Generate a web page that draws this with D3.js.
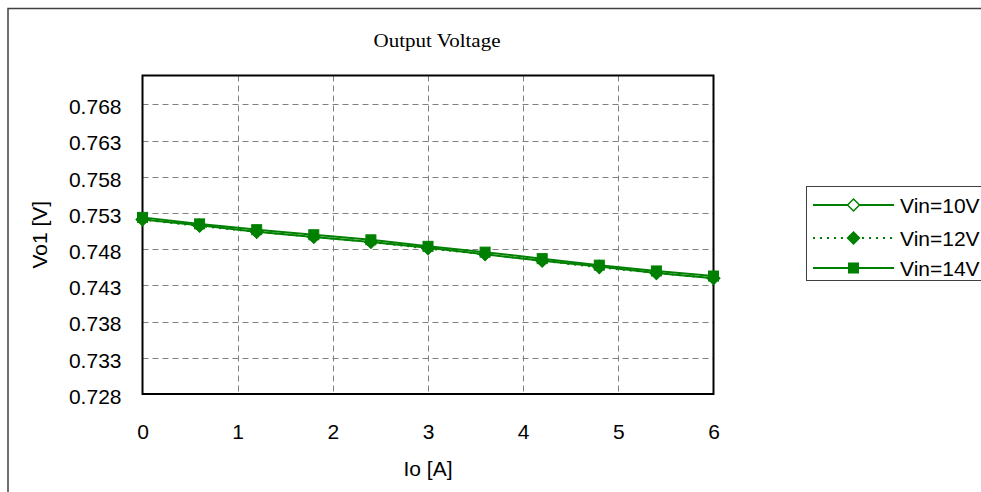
<!DOCTYPE html>
<html>
<head>
<meta charset="utf-8">
<script src="https://cdn.jsdelivr.net/npm/d3@7"></script>
<style>
  html, body { margin: 0; padding: 0; background: #fff; }
  svg { display: block; }
</style>
</head>
<body>
<svg id="chart" width="981" height="492"></svg>
<script>
// Load current sweep (A)
const currents = [0, 0.6, 1.2, 1.8, 2.4, 3.0, 3.6, 4.2, 4.8, 5.4, 6.0];
// Output voltage Vo1 (V) for each input voltage
const vin10 = [0.7521, 0.7513, 0.7504, 0.7497, 0.7490, 0.7482, 0.7473, 0.7464, 0.7456, 0.7447, 0.7440];
const vin12 = [0.7521, 0.7512, 0.7504, 0.7497, 0.7490, 0.7481, 0.7473, 0.7464, 0.7455, 0.7447, 0.7440];
const vin14 = [0.7524, 0.7515, 0.7507, 0.7500, 0.7493, 0.7484, 0.7476, 0.7467, 0.7458, 0.7450, 0.7443];
const seriesNames = ["Vin=10V", "Vin=12V", "Vin=14V"];
const xTicks = [0, 1, 2, 3, 4, 5, 6];
const yTicks = [0.728, 0.733, 0.738, 0.743, 0.748, 0.753, 0.758, 0.763, 0.768];

const svg = d3.select("#chart");
const green = "#008000";
const plot = { left: 142.5, right: 713.5, top: 75.5, bottom: 394 };

const x = d3.scaleLinear().domain([0, 6]).range([plot.left, plot.right]);
const y = d3.scaleLinear().domain([0.728, 0.772]).range([plot.bottom, plot.top]);

// Outer chart frame
svg.append("path")
  .attr("d", "M8,500 L8,8.5 L990,8.5")
  .attr("fill", "none").attr("stroke", "#404040").attr("stroke-width", 1.5);

// Title
svg.append("text")
  .attr("x", 437).attr("y", 47)
  .attr("text-anchor", "middle")
  .attr("font-family", "'Liberation Serif', 'Times New Roman', serif")
  .attr("font-size", 19).attr("fill", "#000")
  .attr("textLength", 127).attr("lengthAdjust", "spacingAndGlyphs")
  .text("Output Voltage");

// Dashed grid
const grid = svg.append("g").attr("stroke", "#808080").attr("stroke-width", 1)
  .attr("stroke-dasharray", "6,4");
grid.selectAll("line.h").data(yTicks.slice(1)).join("line")
  .attr("x1", plot.left).attr("x2", plot.right)
  .attr("y1", d => Math.round(y(d)) + 0.5).attr("y2", d => Math.round(y(d)) + 0.5);
grid.selectAll("line.v").data(xTicks.slice(1, -1)).join("line")
  .attr("y1", plot.top).attr("y2", plot.bottom)
  .attr("x1", d => Math.round(x(d)) + 0.5).attr("x2", d => Math.round(x(d)) + 0.5);

// Plot area border
svg.append("rect")
  .attr("x", plot.left).attr("y", plot.top)
  .attr("width", plot.right - plot.left).attr("height", plot.bottom - plot.top)
  .attr("fill", "none").attr("stroke", "#000").attr("stroke-width", 2);

// Axes (labels only; the plot border acts as axis lines)
const yAxis = d3.axisLeft(y).tickValues(yTicks).tickFormat(d3.format(".3f"))
  .tickSize(0).tickPadding(21);
const gy = svg.append("g").attr("transform", `translate(${plot.left},2.5)`).call(yAxis);
gy.select(".domain").remove();
gy.selectAll("text").attr("font-family", "'Liberation Sans', Arial, sans-serif")
  .attr("font-size", 21).attr("fill", "#000");

const xAxis = d3.axisBottom(x).tickValues(xTicks).tickFormat(d3.format("d"))
  .tickSize(0).tickPadding(30);
const gx = svg.append("g").attr("transform", `translate(0,${plot.bottom})`).call(xAxis);
gx.select(".domain").remove();
gx.selectAll("text").attr("font-family", "'Liberation Sans', Arial, sans-serif")
  .attr("font-size", 21).attr("fill", "#000");

// Axis titles
svg.append("text")
  .attr("transform", `translate(47,${(plot.top + plot.bottom) / 2}) rotate(-90)`)
  .attr("text-anchor", "middle")
  .attr("font-family", "'Liberation Sans', Arial, sans-serif")
  .attr("font-size", 21).attr("fill", "#000")
  .text("Vo1 [V]");
svg.append("text")
  .attr("x", (plot.left + plot.right) / 2).attr("y", 476)
  .attr("text-anchor", "middle")
  .attr("font-family", "'Liberation Sans', Arial, sans-serif")
  .attr("font-size", 21).attr("fill", "#000")
  .text("Io [A]");

// Series
const series = [
  { name: seriesNames[0], values: vin10, dash: null, marker: "diamondOpen" },
  { name: seriesNames[1], values: vin12, dash: "2,5", marker: "diamond" },
  { name: seriesNames[2], values: vin14, dash: null, marker: "square" }
];

const line = d3.line().x(d => x(d[0])).y(d => y(d[1]));

function drawMarker(g, type, cx, cy) {
  if (type === "square") {
    g.append("rect").attr("x", cx - 5).attr("y", cy - 5).attr("width", 10).attr("height", 10)
      .attr("fill", green).attr("stroke", green).attr("stroke-width", 1);
  } else {
    const r = 6;
    g.append("path")
      .attr("d", `M${cx},${cy - r} L${cx + r},${cy} L${cx},${cy + r} L${cx - r},${cy} Z`)
      .attr("fill", type === "diamondOpen" ? "#fff" : green)
      .attr("stroke", green).attr("stroke-width", 1.5);
  }
}

series.forEach(s => {
  const pts = currents.map((c, i) => [c, s.values[i]]);
  const g = svg.append("g");
  g.append("path").datum(pts).attr("d", line)
    .attr("fill", "none").attr("stroke", green).attr("stroke-width", 2)
    .attr("stroke-dasharray", s.dash);
  pts.forEach(p => drawMarker(g, s.marker, x(p[0]), y(p[1])));
});

// Legend
const legend = svg.append("g");
legend.append("rect")
  .attr("x", 806.5).attr("y", 186.5).attr("width", 200).attr("height", 94)
  .attr("fill", "#fff").attr("stroke", "#404040").attr("stroke-width", 1);
const rowY = [205, 238, 268];
series.forEach((s, i) => {
  legend.append("line")
    .attr("x1", 813).attr("x2", 894).attr("y1", rowY[i]).attr("y2", rowY[i])
    .attr("stroke", green).attr("stroke-width", 2)
    .attr("stroke-dasharray", s.dash);
  drawMarker(legend, s.marker, 853.5, rowY[i]);
  legend.append("text")
    .attr("x", 900).attr("y", rowY[i] + 7.5)
    .attr("font-family", "'Liberation Sans', Arial, sans-serif")
    .attr("font-size", 21).attr("fill", "#000")
    .text(s.name);
});
</script>
</body>
</html>
